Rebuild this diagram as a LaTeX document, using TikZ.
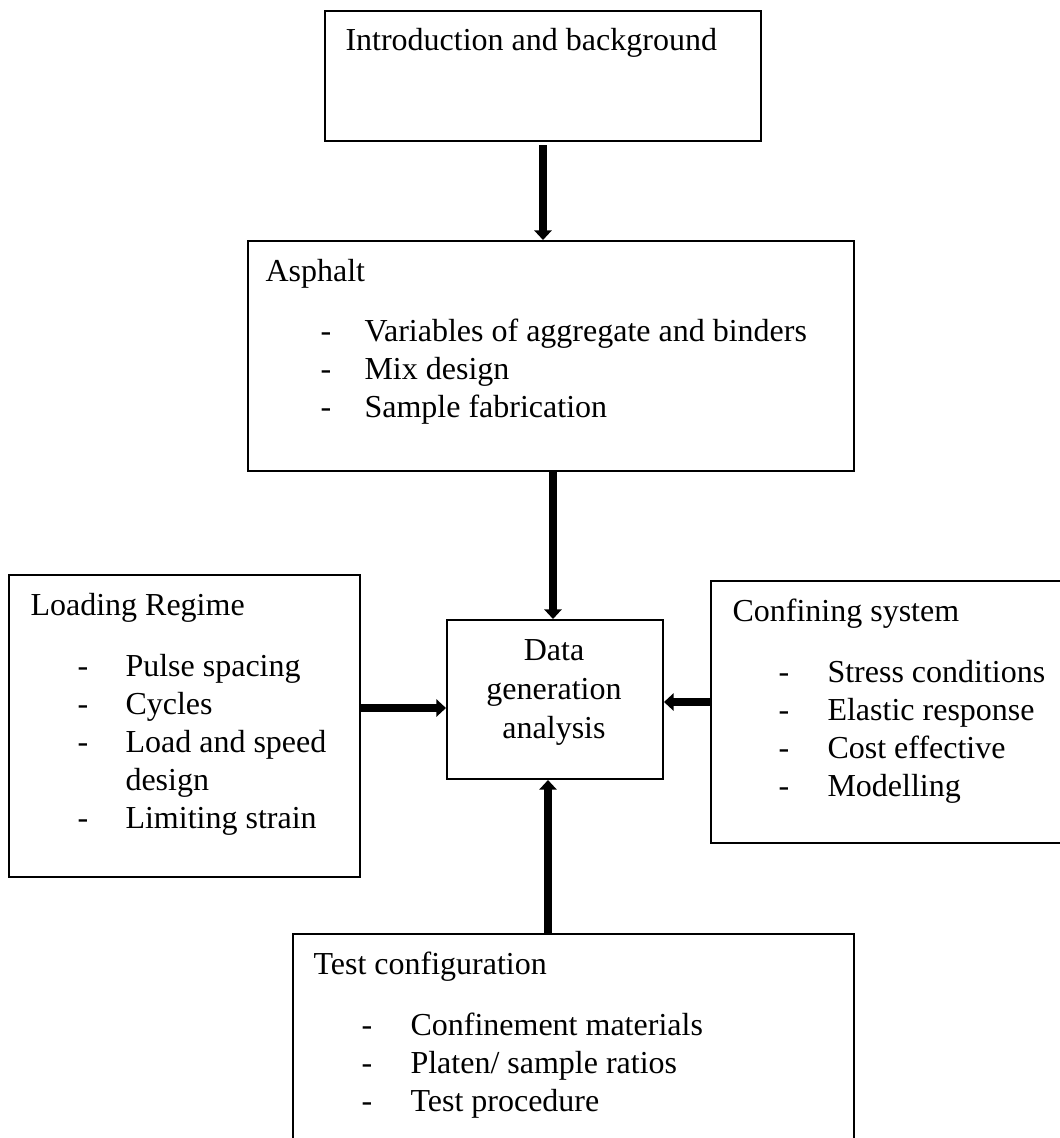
\documentclass[tikz,border=0pt]{standalone}
\usepackage{fontspec}
\setmainfont{Liberation Serif}
\usetikzlibrary{arrows.meta}
\tikzset{
  box/.style={draw=black, line width=0.75pt, inner sep=0pt, anchor=north west, fill=none},
  txt/.style={anchor=base west, inner sep=0pt, font=\fontsize{12pt}{14pt}\selectfont},
  ctxt/.style={anchor=base, inner sep=0pt, font=\fontsize{12pt}{14pt}\selectfont},
  bigarrow/.style={line width=3pt, -{Triangle[width=6.4pt,length=3.6pt]}}
}
\begin{document}
\begin{tikzpicture}[x=0.375pt, y=-0.375pt]
\clip (0,0) rectangle (1060,1138);
\fill[white] (0,0) rectangle (1060,1138);
% boxes
\node[box, minimum width=163.5pt, minimum height=48.75pt] (intro) at (324,10) {};
\node[box, minimum width=227.25pt, minimum height=86.25pt] (asph) at (247,240) {};
\node[box, minimum width=131.625pt, minimum height=113.25pt] (load) at (8,574) {};
\node[box, minimum width=81pt, minimum height=59.625pt] (data) at (446,619) {};
\node[box, minimum width=135pt, minimum height=98.25pt] (conf) at (710,580) {};
\node[box, minimum width=210.375pt, minimum height=81.375pt] (test) at (292,933) {};
% titles
\node[txt] (tintro) at (345,50) {Introduction and background};
\node[txt] (tasph) at (265,281) {Asphalt};
\node[txt] (tload) at (30,615) {Loading Regime};
\node[txt] (tconf) at (732,621) {Confining system};
\node[txt] (ttest) at (313,974) {Test configuration};
% data text
\node[ctxt] (d1) at (554,660) {Data};
\node[ctxt] (d2) at (554,699) {generation};
\node[ctxt] (d3) at (554,738) {analysis};
% asphalt list
\foreach \t [count=\i] in {Variables of aggregate and binders, Mix design, Sample fabrication}{
  \node[txt] (asd\i) at (320,{341+38*(\i-1)}) {-};
  \node[txt] (asi\i) at (364,{341+38*(\i-1)}) {\t};
}
% loading list
\node[txt] (ld1) at (77,676) {-};
\node[txt] (li1) at (125,676) {Pulse spacing};
\node[txt] (ld2) at (77,714) {-};
\node[txt] (li2) at (125,714) {Cycles};
\node[txt] (ld3) at (77,752) {-};
\node[txt] (li3) at (125,752) {Load and speed};
\node[txt] (li4) at (125,790) {design};
\node[txt] (ld5) at (77,828) {-};
\node[txt] (li5) at (125,828) {Limiting strain};
% confining list
\foreach \t [count=\i] in {Stress conditions, Elastic response, Cost effective, Modelling}{
  \node[txt] (cd\i) at (778,{682+38*(\i-1)}) {-};
  \node[txt] (ci\i) at (827,{682+38*(\i-1)}) {\t};
}
% test list
\foreach \t [count=\i] in {Confinement materials, Platen/ sample ratios, Test procedure}{
  \node[txt] (td\i) at (361,{1035+38*(\i-1)}) {-};
  \node[txt] (ti\i) at (410,{1035+38*(\i-1)}) {\t};
}
% connectors
\coordinate (ax) at (543,145);
\coordinate (bx) at (553,0);
\coordinate (cy) at (0,708);
\coordinate (dy) at (0,702);
\coordinate (ex) at (548,0);
\draw[bigarrow] (ax) -- (asph.north -| ax);
\draw[bigarrow] (asph.south -| bx) -- (data.north -| bx);
\draw[bigarrow] (load.east |- cy) -- (data.west |- cy);
\draw[bigarrow] (conf.west |- dy) -- (data.east |- dy);
\draw[bigarrow] (test.north -| ex) -- (data.south -| ex);
\end{tikzpicture}
\end{document}
